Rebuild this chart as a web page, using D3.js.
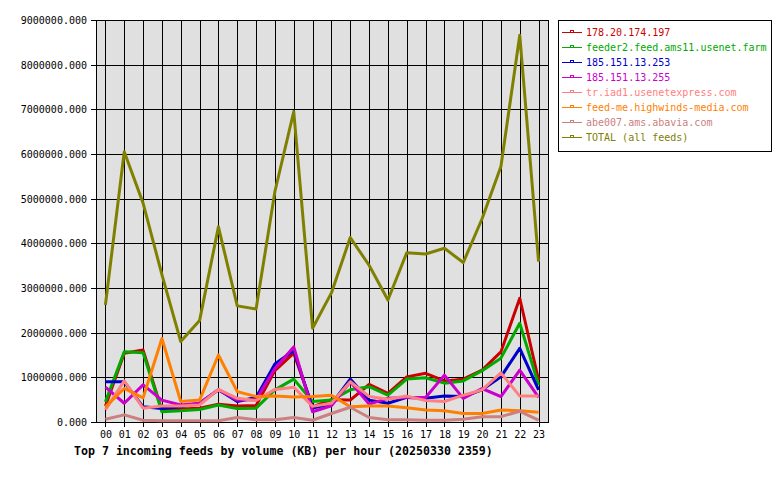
<!DOCTYPE html>
<html lang="en">
<head>
    <meta charset="UTF-8">
    <title>Top 7 incoming feeds</title>
    <script src="https://d3js.org/d3.v7.min.js"></script>
    <style>
        body { margin: 0; background: #fff; }
        svg { display: block; }
        text { font-family: "DejaVu Sans Mono", "Liberation Mono", monospace; }
    </style>
</head>
<body>
<svg width="780" height="480"></svg>
<script>
    // hours on the x axis
    let hours = ["00","01","02","03","04","05","06","07","08","09","10","11",
                 "12","13","14","15","16","17","18","19","20","21","22","23"];
    let yTicks = [0,1000000,2000000,3000000,4000000,5000000,6000000,7000000,8000000,9000000];

    let feedNames = ["178.20.174.197","feeder2.feed.ams11.usenet.farm","185.151.13.253","185.151.13.255",
                     "tr.iad1.usenetexpress.com","feed-me.highwinds-media.com","abe007.ams.abavia.com","TOTAL (all feeds)"];
    let feedColors = ["#cc0000","#00aa00","#0000cc","#cc00cc","#ff8080","#ff8000","#cc8080","#808000"];

    // values (KB per hour)
    let red178 = [350000,1540000,1610000,260000,290000,310000,400000,360000,370000,1150000,1540000,340000,
                  500000,490000,840000,640000,1010000,1090000,920000,960000,1160000,1570000,2770000,940000];
    let greenFeeder2 = [450000,1570000,1550000,230000,250000,280000,380000,300000,310000,720000,960000,460000,
                        490000,720000,790000,600000,960000,990000,870000,920000,1150000,1430000,2210000,830000];
    let blue253 = [900000,900000,340000,300000,340000,420000,720000,460000,550000,1300000,1600000,310000,
                   400000,960000,490000,420000,550000,530000,580000,570000,720000,1010000,1650000,720000];
    let magenta255 = [780000,420000,830000,490000,380000,420000,720000,490000,500000,1200000,1680000,230000,
                      360000,900000,400000,530000,550000,550000,1050000,530000,750000,570000,1160000,550000];
    let pinkIad1 = [270000,920000,310000,360000,360000,380000,730000,530000,480000,730000,780000,350000,
                    420000,900000,570000,510000,580000,480000,460000,600000,720000,1100000,580000,580000];
    let orangeHighwinds = [340000,750000,540000,1870000,460000,490000,1500000,680000,570000,580000,560000,570000,
                           600000,340000,360000,360000,320000,270000,250000,190000,190000,270000,250000,220000];
    let brownAbe007 = [60000,160000,40000,30000,30000,30000,30000,100000,50000,50000,100000,40000,
                       190000,330000,100000,50000,50000,40000,40000,60000,120000,120000,240000,40000];
    let totalAll = [2620000,6050000,4900000,3300000,1800000,2270000,4370000,2600000,2530000,5160000,6950000,2100000,
                    2890000,4130000,3510000,2730000,3790000,3760000,3890000,3570000,4550000,5720000,8660000,3590000];

    let seriesValues = [red178, greenFeeder2, blue253, magenta255, pinkIad1, orangeHighwinds, brownAbe007, totalAll];

    let svg = d3.select("svg");
    let plot = {left: 96, right: 548, top: 20, bottom: 422};

    let xScale = d3.scaleLinear().domain([-0.5, 23.5]).range([plot.left, plot.right]);
    let yScale = d3.scaleLinear().domain([0, 9000000]).range([plot.bottom, plot.top]);

    // background
    svg.append("rect")
        .attr("x", plot.left).attr("y", plot.top)
        .attr("width", plot.right - plot.left).attr("height", plot.bottom - plot.top)
        .attr("fill", "#e0e0e0");

    // grid lines
    let grid = svg.append("g").attr("stroke", "#000").attr("stroke-width", 1).attr("shape-rendering", "crispEdges");
    grid.selectAll("line.h").data(yTicks).enter().append("line")
        .attr("x1", plot.left - 5).attr("x2", plot.right)
        .attr("y1", d => Math.round(yScale(d)) + 0.5).attr("y2", d => Math.round(yScale(d)) + 0.5);
    grid.selectAll("line.v").data(hours).enter().append("line")
        .attr("x1", (d, i) => Math.round(xScale(i)) + 0.5).attr("x2", (d, i) => Math.round(xScale(i)) + 0.5)
        .attr("y1", plot.top).attr("y2", plot.bottom + 5);
    // frame
    svg.append("rect")
        .attr("x", plot.left + 0.5).attr("y", plot.top + 0.5)
        .attr("width", plot.right - plot.left).attr("height", plot.bottom - plot.top)
        .attr("fill", "none").attr("stroke", "#000").attr("shape-rendering", "crispEdges");

    // y labels
    svg.selectAll("text.ylab").data(yTicks).enter().append("text")
        .attr("x", plot.left - 9).attr("y", d => yScale(d) + 4)
        .attr("text-anchor", "end").attr("font-size", "10px").attr("fill", "#000")
        .text(d => d.toFixed(3));
    // x labels
    svg.selectAll("text.xlab").data(hours).enter().append("text")
        .attr("x", (d, i) => xScale(i) + 0.5).attr("y", 438)
        .attr("text-anchor", "middle").attr("font-size", "10px").attr("fill", "#000")
        .text(d => d);

    // lines
    let line = d3.line().x((d, i) => xScale(i)).y(d => yScale(d));
    svg.selectAll("path.feed").data(seriesValues).enter().append("path")
        .attr("d", line)
        .attr("fill", "none")
        .attr("stroke", (d, i) => feedColors[i])
        .attr("stroke-width", 3)
        .attr("stroke-linejoin", "round");

    // title
    svg.append("text")
        .attr("x", 74).attr("y", 455)
        .attr("font-size", "11.6px").attr("font-weight", "bold").attr("fill", "#000")
        .text("Top 7 incoming feeds by volume (KB) per hour (20250330 2359)");

    // legend
    svg.append("rect")
        .attr("x", 558.5).attr("y", 20.5).attr("width", 213).attr("height", 131)
        .attr("fill", "#fff").attr("stroke", "#000").attr("shape-rendering", "crispEdges");
    let legend = svg.selectAll("g.leg").data(feedNames).enter().append("g")
        .attr("transform", (d, i) => "translate(0," + (32 + i * 15) + ")");
    legend.append("line")
        .attr("x1", 562).attr("x2", 582).attr("y1", 0.5).attr("y2", 0.5)
        .attr("stroke", (d, i) => feedColors[i]).attr("shape-rendering", "crispEdges");
    legend.append("rect")
        .attr("x", 570.5).attr("y", -1.5).attr("width", 3).attr("height", 2)
        .attr("fill", "none").attr("stroke", (d, i) => feedColors[i]).attr("shape-rendering", "crispEdges");
    legend.append("text")
        .attr("x", 586).attr("y", 4)
        .attr("font-size", "10px").attr("fill", (d, i) => feedColors[i])
        .text(d => d);
</script>
</body>
</html>
